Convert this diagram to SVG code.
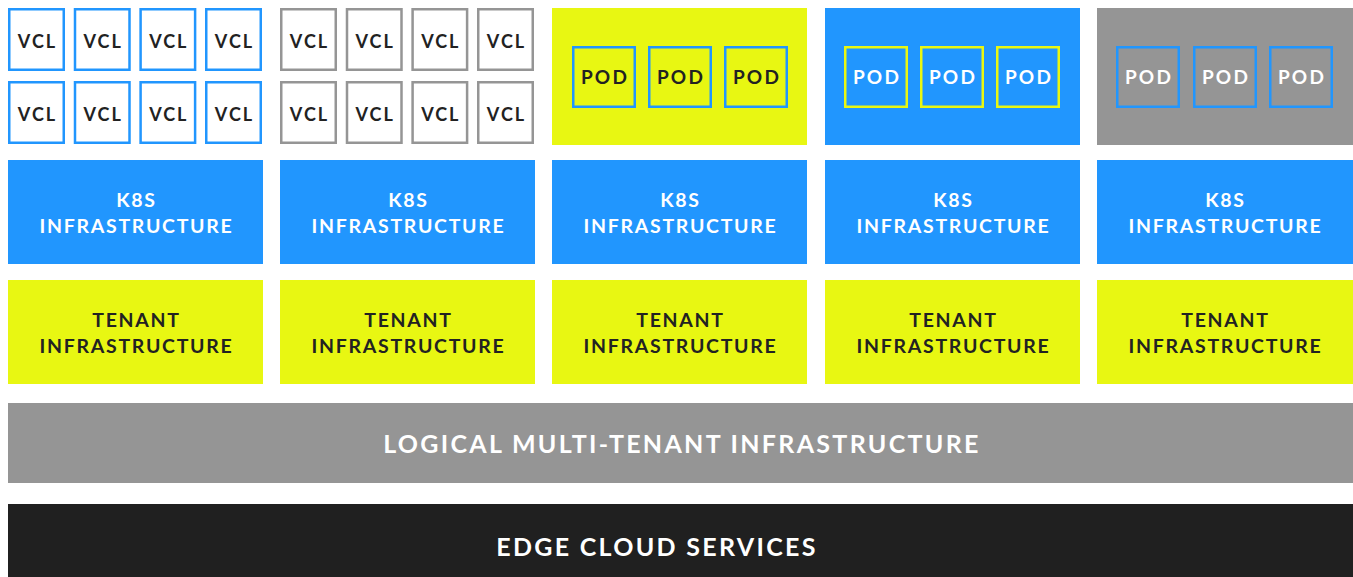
<svg xmlns="http://www.w3.org/2000/svg" width="1353" height="577" viewBox="0 0 1353 577">
<defs>
<style>
text{font-family:Lato,"Open Sans","Liberation Sans",sans-serif;font-weight:700;text-anchor:middle}
.vclb{fill:#fff;stroke:#2196fe;stroke-width:2.5}
.vclg{fill:#fff;stroke:#959595;stroke-width:2.5}
.vt{font-size:18px;fill:#222;letter-spacing:2px}
.pt{font-size:19px;letter-spacing:2.2px}
.lt{font-size:19.5px;letter-spacing:1.7px}
.big{font-size:25px;letter-spacing:2.3px}
.blue{fill:#2196fe}
.yel{fill:#e8f712}
.gray{fill:#959595}
.dark{fill:#202020}
.wt{fill:#fff}
.dt{fill:#222}
</style>
</defs>
<g id="vcl-col1">
<rect class="vclb" x="9.25" y="9.25" width="54.5" height="60.5"/>
<rect class="vclb" x="75" y="9.25" width="54.5" height="60.5"/>
<rect class="vclb" x="140.6" y="9.25" width="54.5" height="60.5"/>
<rect class="vclb" x="206.25" y="9.25" width="54.5" height="60.5"/>
<rect class="vclb" x="9.25" y="82.25" width="54.5" height="60.5"/>
<rect class="vclb" x="75" y="82.25" width="54.5" height="60.5"/>
<rect class="vclb" x="140.6" y="82.25" width="54.5" height="60.5"/>
<rect class="vclb" x="206.25" y="82.25" width="54.5" height="60.5"/>
<text class="vt" x="37.5" y="47.5">VCL</text>
<text class="vt" x="103.2" y="47.5">VCL</text>
<text class="vt" x="168.8" y="47.5">VCL</text>
<text class="vt" x="234.5" y="47.5">VCL</text>
<text class="vt" x="37.5" y="121">VCL</text>
<text class="vt" x="103.2" y="121">VCL</text>
<text class="vt" x="168.8" y="121">VCL</text>
<text class="vt" x="234.5" y="121">VCL</text>
</g>
<g id="vcl-col2">
<rect class="vclg" x="281.25" y="9.25" width="54.5" height="60.5"/>
<rect class="vclg" x="347" y="9.25" width="54.5" height="60.5"/>
<rect class="vclg" x="412.6" y="9.25" width="54.5" height="60.5"/>
<rect class="vclg" x="478.25" y="9.25" width="54.5" height="60.5"/>
<rect class="vclg" x="281.25" y="82.25" width="54.5" height="60.5"/>
<rect class="vclg" x="347" y="82.25" width="54.5" height="60.5"/>
<rect class="vclg" x="412.6" y="82.25" width="54.5" height="60.5"/>
<rect class="vclg" x="478.25" y="82.25" width="54.5" height="60.5"/>
<text class="vt" x="309.5" y="47.5">VCL</text>
<text class="vt" x="375.2" y="47.5">VCL</text>
<text class="vt" x="440.8" y="47.5">VCL</text>
<text class="vt" x="506.5" y="47.5">VCL</text>
<text class="vt" x="309.5" y="121">VCL</text>
<text class="vt" x="375.2" y="121">VCL</text>
<text class="vt" x="440.8" y="121">VCL</text>
<text class="vt" x="506.5" y="121">VCL</text>
</g>
<g id="pods-col3">
<rect class="yel" x="552" y="8" width="255" height="137"/>
<rect x="573.25" y="47.25" width="61.5" height="59.5" fill="none" stroke="#2196fe" stroke-width="2.5"/>
<rect x="649.25" y="47.25" width="61.5" height="59.5" fill="none" stroke="#2196fe" stroke-width="2.5"/>
<rect x="725.25" y="47.25" width="61.5" height="59.5" fill="none" stroke="#2196fe" stroke-width="2.5"/>
<text class="pt dt" x="605" y="84">POD</text>
<text class="pt dt" x="681" y="84">POD</text>
<text class="pt dt" x="757" y="84">POD</text>
</g>
<g id="pods-col4">
<rect class="blue" x="825" y="8" width="255" height="137"/>
<rect x="845.25" y="47.25" width="61.5" height="59.5" fill="none" stroke="#e8f712" stroke-width="2.5"/>
<rect x="921.25" y="47.25" width="61.5" height="59.5" fill="none" stroke="#e8f712" stroke-width="2.5"/>
<rect x="997.25" y="47.25" width="61.5" height="59.5" fill="none" stroke="#e8f712" stroke-width="2.5"/>
<text class="pt wt" x="877" y="84">POD</text>
<text class="pt wt" x="953" y="84">POD</text>
<text class="pt wt" x="1029" y="84">POD</text>
</g>
<g id="pods-col5">
<rect class="gray" x="1097" y="8" width="256" height="137"/>
<rect x="1117.25" y="47.25" width="61.5" height="59.5" fill="none" stroke="#2196fe" stroke-width="2.5"/>
<rect x="1194.25" y="47.25" width="61.5" height="59.5" fill="none" stroke="#2196fe" stroke-width="2.5"/>
<rect x="1270.25" y="47.25" width="61.5" height="59.5" fill="none" stroke="#2196fe" stroke-width="2.5"/>
<text class="pt wt" x="1149" y="84">POD</text>
<text class="pt wt" x="1226" y="84">POD</text>
<text class="pt wt" x="1302" y="84">POD</text>
</g>
<g id="k8s-1"><rect class="blue" x="8" y="160" width="255" height="104"/><text class="lt wt" x="136.5" y="207">K8S</text><text class="lt wt" x="136.5" y="233">INFRASTRUCTURE</text></g>
<g id="k8s-2"><rect class="blue" x="280" y="160" width="255" height="104"/><text class="lt wt" x="408.5" y="207">K8S</text><text class="lt wt" x="408.5" y="233">INFRASTRUCTURE</text></g>
<g id="k8s-3"><rect class="blue" x="552" y="160" width="255" height="104"/><text class="lt wt" x="680.5" y="207">K8S</text><text class="lt wt" x="680.5" y="233">INFRASTRUCTURE</text></g>
<g id="k8s-4"><rect class="blue" x="825" y="160" width="255" height="104"/><text class="lt wt" x="953.5" y="207">K8S</text><text class="lt wt" x="953.5" y="233">INFRASTRUCTURE</text></g>
<g id="k8s-5"><rect class="blue" x="1097" y="160" width="256" height="104"/><text class="lt wt" x="1225.5" y="207">K8S</text><text class="lt wt" x="1225.5" y="233">INFRASTRUCTURE</text></g>
<g id="tenant-1"><rect class="yel" x="8" y="280" width="255" height="104"/><text class="lt dt" x="136.5" y="327">TENANT</text><text class="lt dt" x="136.5" y="353">INFRASTRUCTURE</text></g>
<g id="tenant-2"><rect class="yel" x="280" y="280" width="255" height="104"/><text class="lt dt" x="408.5" y="327">TENANT</text><text class="lt dt" x="408.5" y="353">INFRASTRUCTURE</text></g>
<g id="tenant-3"><rect class="yel" x="552" y="280" width="255" height="104"/><text class="lt dt" x="680.5" y="327">TENANT</text><text class="lt dt" x="680.5" y="353">INFRASTRUCTURE</text></g>
<g id="tenant-4"><rect class="yel" x="825" y="280" width="255" height="104"/><text class="lt dt" x="953.5" y="327">TENANT</text><text class="lt dt" x="953.5" y="353">INFRASTRUCTURE</text></g>
<g id="tenant-5"><rect class="yel" x="1097" y="280" width="256" height="104"/><text class="lt dt" x="1225.5" y="327">TENANT</text><text class="lt dt" x="1225.5" y="353">INFRASTRUCTURE</text></g>
<g id="logical"><rect class="gray" x="8" y="403" width="1345" height="80"/><text class="big wt" x="682" y="453">LOGICAL MULTI-TENANT INFRASTRUCTURE</text></g>
<g id="edge"><rect class="dark" x="8" y="504" width="1345" height="73"/><text class="big wt" x="657" y="556">EDGE CLOUD SERVICES</text></g>
<g id="connectors"></g>
</svg>
